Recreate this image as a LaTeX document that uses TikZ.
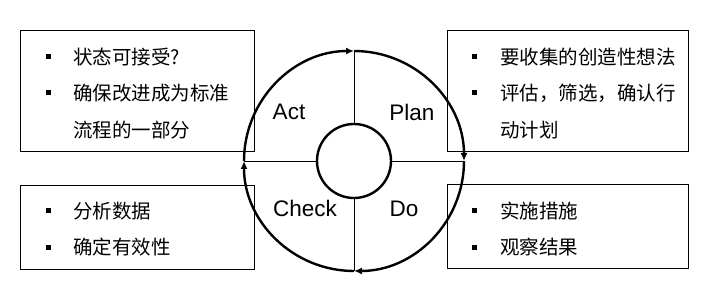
\documentclass[tikz,border=0pt]{standalone}
\usepackage{fontspec}
\setmainfont{Liberation Sans}
\newfontfamily\cjk{Noto Sans CJK SC}
\usetikzlibrary{arrows.meta}

\begin{document}
\begin{tikzpicture}[
  x=1pt, y=1pt,
  box/.style={draw, line width=0.8pt, inner sep=0pt},
  bullet/.style={fill=black, inner sep=0pt, minimum size=5pt},
  item/.style={anchor=west, inner sep=0pt, font=\cjk\fontsize{19.5}{19.5}\selectfont},
  phase/.style={font=\fontsize{22.5}{22.5}\selectfont},
  cyc/.style={line width=2.4pt, -{Latex[length=8pt,width=7pt]}},
  divider/.style={line width=0.8pt},
]
\useasboundingbox (0,0) rectangle (713,302);
% text boxes
\node[box, minimum width=234pt, minimum height=121pt] (actbox) at (137,211.5) {};
\node[box, minimum width=241pt, minimum height=121pt] (planbox) at (567.5,211) {};
\node[box, minimum width=234pt, minimum height=84pt] (checkbox) at (137,75) {};
\node[box, minimum width=241pt, minimum height=84pt] (dobox) at (567.5,76) {};

% Act
\node[bullet] (a1) at (48,245) {};
\node[item] (act1) at (73,245) {状态可接受?};
\node[bullet] (a2) at (48,209) {};
\node[item] (act2) at (73,209) {确保改进成为标准};
\node[item] (act3) at (73,172) {流程的一部分};
% Plan
\node[bullet] (p1) at (474,245) {};
\node[item] (plan1) at (500,245) {要收集的创造性想法};
\node[bullet] (p2) at (474,209) {};
\node[item] (plan2) at (500,209) {评估，筛选，确认行};
\node[item] (plan3) at (500,172) {动计划};
% Check
\node[bullet] (c1) at (48,91) {};
\node[item] (check1) at (73,91) {分析数据};
\node[bullet] (c2) at (48,54.5) {};
\node[item] (check2) at (73,54.5) {确定有效性};
% Do
\node[bullet] (d1) at (474,91) {};
\node[item] (do1) at (500,91) {实施措施};
\node[bullet] (d2) at (474,54.5) {};
\node[item] (do2) at (500,54.5) {观察结果};

% cycle
\coordinate (c) at (354,141);
\coordinate (top) at (354,251);
\coordinate (right) at (464,141);
\coordinate (bottom) at (354,31);
\coordinate (left) at (244,141);
\node[circle, draw, line width=2.4pt, minimum size=74pt, inner sep=0pt] (hub) at (c) {};
\draw[divider] (top) -- (hub.north);
\draw[divider] (bottom) -- (hub.south);
\draw[divider] (left) -- (hub.west);
\draw[divider] (right) -- (hub.east);
\draw[cyc] (left) arc[start angle=180, end angle=90, radius=110pt];
\draw[cyc] (top) arc[start angle=90, end angle=0, radius=110pt];
\draw[cyc] (right) arc[start angle=0, end angle=-90, radius=110pt];
\draw[cyc] (bottom) arc[start angle=-90, end angle=-180, radius=110pt];

\node[phase] (act) at (289,190) {Act};
\node[phase] (plan) at (412,190) {Plan};
\node[phase] (check) at (305,94) {Check};
\node[phase] (do) at (404,93.5) {Do};
\end{tikzpicture}
\end{document}
